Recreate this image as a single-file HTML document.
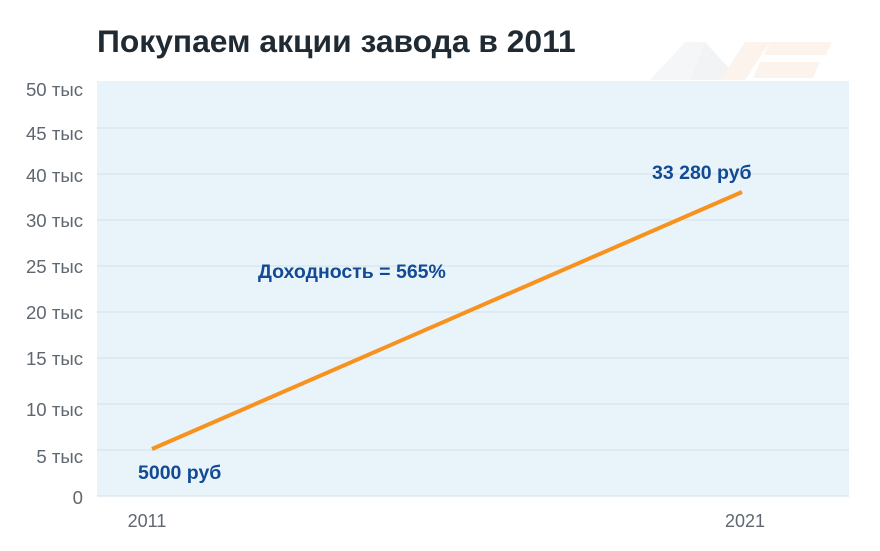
<!DOCTYPE html>
<html><head><meta charset="utf-8"><style>
body{margin:0;background:#fff;width:880px;height:546px;overflow:hidden;font-family:"Liberation Sans",sans-serif}
</style></head><body>
<svg width="880" height="546" xmlns="http://www.w3.org/2000/svg" font-family="Liberation Sans, sans-serif">
<text x="97" y="52" font-size="31.8" font-weight="bold" fill="#1f2a33">Покупаем акции завода в 2011</text>
<g opacity="0.6">
<polygon points="650,80 685,42 705,42 690,80" fill="#eef1f4"/>
<polygon points="690,80 705,42 740,80" fill="#e8ecf0"/>
<polygon points="720,80 745,42 770,42 745,80" fill="#fbeee0"/>
<polygon points="770,42 832,42 826,55 764,55" fill="#fbeee0"/>
<polygon points="760,62 820,62 813,78 753,78" fill="#fbeee0"/>
</g>
<rect x="97" y="81" width="752" height="415" fill="#e9f4fa"/>
<g stroke="#d6e4ec" stroke-width="1.2">
<line x1="97" x2="849" y1="496" y2="496"/><line x1="97" x2="849" y1="450" y2="450"/>
<line x1="97" x2="849" y1="404" y2="404"/><line x1="97" x2="849" y1="358" y2="358"/>
<line x1="97" x2="849" y1="312" y2="312"/><line x1="97" x2="849" y1="266" y2="266"/>
<line x1="97" x2="849" y1="220" y2="220"/><line x1="97" x2="849" y1="174" y2="174"/>
<line x1="97" x2="849" y1="128" y2="128"/>
</g>
<g font-size="18.6" fill="#5f6770" text-anchor="end">
<text x="83" y="96">50 тыс</text><text x="83" y="140">45 тыс</text>
<text x="83" y="182">40 тыс</text><text x="83" y="227">30 тыс</text>
<text x="83" y="273">25 тыс</text><text x="83" y="319">20 тыс</text>
<text x="83" y="365">15 тыс</text><text x="83" y="416">10 тыс</text>
<text x="83" y="463">5 тыс</text><text x="83" y="504">0</text>
</g>
<g font-size="18" fill="#5f6770" text-anchor="middle">
<text x="147" y="527">2011</text><text x="745" y="527">2021</text>
</g>
<line x1="152" y1="449" x2="742" y2="192" stroke="#f7921e" stroke-width="4"/>
<g font-size="19.5" font-weight="bold" fill="#124a94">
<text x="138" y="479">5000 руб</text>
<text x="652" y="179">33 280 руб</text>
<text x="258" y="278">Доходность = 565%</text>
</g>
</svg>
</body></html>
